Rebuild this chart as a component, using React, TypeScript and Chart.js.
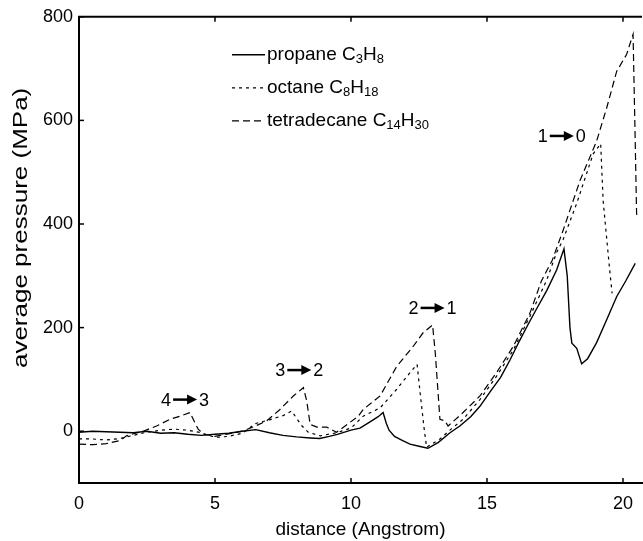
import React, { useEffect, useRef } from 'react';
import { Chart, registerables } from 'chart.js';

Chart.register(...registerables);

// ---- data (distance in Angstrom, pressure in MPa) ----
const propaneX = [0, 0.5, 1.0, 1.5, 2.0, 2.5, 3.0, 3.5, 4.0, 4.5, 5.0, 5.5, 6.0, 6.5, 7.0, 7.5, 8.0, 8.5, 8.85, 9.2, 9.5, 10.0, 10.33, 10.7, 11.0, 11.18, 11.3, 11.4, 11.6, 11.9, 12.17, 12.5, 12.83, 13.2, 13.64, 14.0, 14.4, 14.74, 15.1, 15.5, 15.85, 16.2, 16.5, 16.8, 17.2, 17.56, 17.83, 17.95, 18.05, 18.12, 18.3, 18.48, 18.7, 19.03, 19.4, 19.77, 20.1, 20.45];
const propaneY = [-2, 0, -1, -2, -3, 0, -4, -3, -6, -8, -6, -4, 0, 3, -3, -8, -11, -13, -14, -10, -6, 2, 6, 18, 28, 36, 15, 2, -10, -18, -25, -29, -33, -22, -3, 10, 28, 48, 75, 104, 138, 175, 205, 234, 272, 311, 352, 300, 200, 170, 160, 130, 140, 171, 215, 260, 290, 324];

const octaneX = [0, 0.5, 1.0, 1.5, 2.0, 2.4, 3.0, 3.5, 4.0, 4.5, 5.0, 5.5, 6.0, 6.5, 7.0, 7.5, 7.82, 8.0, 8.2, 8.43, 8.87, 9.47, 10.0, 10.45, 11.07, 11.68, 12.17, 12.43, 12.55, 12.7, 12.78, 13.27, 13.7, 14.12, 14.74, 15.35, 15.97, 16.58, 17.19, 17.56, 17.8, 18.3, 18.9, 19.18, 19.27, 19.5, 19.6];
const octaneY = [-15, -15, -17, -14, -8, -3, 2, 4, 2, -3, -12, -10, -4, 15, 22, 30, 39, 25, 10, -2, -9, -3, 6, 29, 45, 81, 113, 129, 70, 0, -31, -15, 5, 23, 61, 106, 157, 222, 291, 345, 370, 440, 535, 555, 445, 317, 266];

const tetradecaneX = [0, 0.5, 1.0, 1.5, 1.75, 2.0, 2.36, 2.85, 3.35, 3.71, 4.08, 4.2, 4.38, 4.6, 5.0, 5.5, 6.0, 6.4, 6.9, 7.39, 7.88, 8.25, 8.37, 8.5, 8.75, 9.1, 9.47, 9.96, 10.27, 10.45, 11.07, 11.68, 12.29, 12.65, 13.0, 13.1, 13.27, 13.45, 13.57, 14.12, 14.74, 15.35, 15.97, 16.58, 17.0, 17.4, 17.8, 18.42, 19.03, 19.4, 19.77, 20.13, 20.37, 20.44, 20.5, 20.55];
const tetradecaneY = [-25, -26, -24, -18, -9, -5, 0, 10, 23, 29, 36, 23, 4, -6, -10, -5, 0, 8, 20, 42, 68, 84, 59, 13, 8, 8, -2, 17, 29, 42, 68, 125, 164, 190, 205, 150, 23, 20, 10, 36, 68, 113, 164, 228, 290, 330, 388, 484, 560, 624, 695, 727, 766, 586, 420, 410];

const xTicks = [0, 5, 10, 15, 20];
const yTicks = [0, 200, 400, 600, 800];

const xTitle = 'distance (Angstrom)';
const yTitle = 'average pressure (MPa)';

const legendLabels = [
  [{ t: 'propane C' }, { t: '3', sub: true }, { t: 'H' }, { t: '8', sub: true }],
  [{ t: 'octane C' }, { t: '8', sub: true }, { t: 'H' }, { t: '18', sub: true }],
  [{ t: 'tetradecane C' }, { t: '14', sub: true }, { t: 'H' }, { t: '30', sub: true }],
];

const transitionFrom = ['4', '3', '2', '1'];
const transitionTo = ['3', '2', '1', '0'];
const transitionX = [3.9, 8.1, 13.0, 17.75];
const transitionY = [61, 118, 238, 570];

const FONT = '"Liberation Sans", Arial, Helvetica, sans-serif';

const toPoints = (xs: number[], ys: number[]) => xs.map((x, i) => ({ x, y: ys[i] }));

const framePlugin = {
  id: 'frame',
  afterDraw(chart: any) {
    const ctx = chart.ctx;
    const { left, right, top, bottom } = chart.chartArea;
    const xs = chart.scales.x;
    const ys = chart.scales.y;
    ctx.save();
    ctx.strokeStyle = '#000';
    ctx.lineWidth = 2;
    ctx.beginPath();
    ctx.moveTo(left - 1, top);
    ctx.lineTo(right, top);
    ctx.stroke();
    ctx.lineWidth = 1.5;
    xTicks.forEach((v) => {
      const px = xs.getPixelForValue(v);
      ctx.beginPath();
      ctx.moveTo(px, bottom);
      ctx.lineTo(px, bottom - 5);
      ctx.moveTo(px, top);
      ctx.lineTo(px, top + 5);
      ctx.stroke();
    });
    yTicks.forEach((v) => {
      const py = ys.getPixelForValue(v);
      ctx.beginPath();
      ctx.moveTo(left, py);
      ctx.lineTo(left + 5, py);
      ctx.stroke();
    });

    // y axis title (drawn here so its width can follow the reference)
    ctx.fillStyle = '#000';
    ctx.font = `20px ${FONT}`;
    ctx.textAlign = 'center';
    ctx.textBaseline = 'middle';
    ctx.translate(21, (top + bottom) / 2 - 22);
    ctx.rotate(-Math.PI / 2);
    ctx.scale(1.3, 1);
    ctx.fillText(yTitle, 0, 0);
    ctx.restore();
  },
};

const labelsPlugin = {
  id: 'labels',
  afterDatasetsDraw(chart: any) {
    const ctx = chart.ctx;
    const xs = chart.scales.x;
    const ys = chart.scales.y;
    const { left, top } = chart.chartArea;
    ctx.save();
    ctx.fillStyle = '#000';
    ctx.strokeStyle = '#000';
    ctx.textBaseline = 'middle';
    ctx.textAlign = 'left';

    // transition labels with arrows
    transitionFrom.forEach((from, i) => {
      const to = transitionTo[i];
      const cx = xs.getPixelForValue(transitionX[i]);
      const cy = ys.getPixelForValue(transitionY[i]);
      ctx.font = `18px ${FONT}`;
      const w1 = ctx.measureText(from).width;
      const w2 = ctx.measureText(to).width;
      const arrowLen = 24;
      const gap = 2;
      const total = w1 + gap + arrowLen + gap + w2;
      let x = cx - total / 2;
      ctx.fillText(from, x, cy + 1);
      x += w1 + gap;
      ctx.lineWidth = 2.5;
      ctx.beginPath();
      ctx.moveTo(x, cy);
      ctx.lineTo(x + arrowLen - 7, cy);
      ctx.stroke();
      ctx.beginPath();
      ctx.moveTo(x + arrowLen, cy);
      ctx.lineTo(x + arrowLen - 10, cy - 5);
      ctx.lineTo(x + arrowLen - 10, cy + 5);
      ctx.closePath();
      ctx.fill();
      x += arrowLen + gap;
      ctx.fillText(to, x, cy + 1);
    });

    // legend
    const lx0 = left + 153;
    const ly0 = top + 38;
    const rowH = 33;
    const sampleW = 33;
    chart.data.datasets.forEach((ds: any, i: number) => {
      const y = ly0 + i * rowH;
      ctx.lineWidth = ds.borderWidth;
      ctx.setLineDash(ds.borderDash || []);
      ctx.beginPath();
      ctx.moveTo(lx0, y);
      ctx.lineTo(lx0 + sampleW, y);
      ctx.stroke();
      ctx.setLineDash([]);
      let x = lx0 + sampleW + 2;
      legendLabels[i].forEach((p: any) => {
        if (p.sub) {
          ctx.font = `13px ${FONT}`;
          ctx.fillText(p.t, x, y + 5);
        } else {
          ctx.font = `19px ${FONT}`;
          ctx.fillText(p.t, x, y);
        }
        x += ctx.measureText(p.t).width;
      });
    });
    ctx.restore();
  },
};

export default function App() {
  const canvasRef = useRef<HTMLCanvasElement | null>(null);

  useEffect(() => {
    if (!canvasRef.current) return;
    const chart = new Chart(canvasRef.current, {
      type: 'line',
      data: {
        datasets: [
          {
            label: 'propane',
            data: toPoints(propaneX, propaneY),
            borderColor: '#000',
            borderWidth: 1.4,
            borderDash: [],
            pointRadius: 0,
            fill: false,
            tension: 0,
          },
          {
            label: 'octane',
            data: toPoints(octaneX, octaneY),
            borderColor: '#000',
            borderWidth: 1.2,
            borderDash: [3, 4],
            pointRadius: 0,
            fill: false,
            tension: 0,
          },
          {
            label: 'tetradecane',
            data: toPoints(tetradecaneX, tetradecaneY),
            borderColor: '#000',
            borderWidth: 1.2,
            borderDash: [7, 4],
            pointRadius: 0,
            fill: false,
            tension: 0,
          },
        ],
      },
      options: {
        responsive: false,
        animation: false,
        layout: { padding: { top: 15, right: 0, left: 0, bottom: 0 } },
        plugins: { legend: { display: false }, tooltip: { enabled: false } },
        scales: {
          x: {
            type: 'linear',
            min: 0,
            max: 20.7,
            grid: { display: false, drawTicks: false },
            border: { display: true, color: '#000', width: 2 },
            afterBuildTicks: (s: any) => {
              s.ticks = xTicks.map((v) => ({ value: v }));
            },
            afterFit: (s: any) => {
              s.height = 58;
            },
            ticks: {
              color: '#000',
              padding: 10,
              maxRotation: 0,
              font: { family: FONT, size: 18 },
            },
            title: {
              display: true,
              text: xTitle,
              color: '#000',
              font: { family: FONT, size: 19 },
              padding: { top: 2, bottom: 0 },
            },
          },
          y: {
            type: 'linear',
            min: -100,
            max: 800,
            grid: { display: false, drawTicks: false },
            border: { display: true, color: '#000', width: 2 },
            afterBuildTicks: (s: any) => {
              s.ticks = yTicks.map((v) => ({ value: v }));
            },
            afterFit: (s: any) => {
              s.width = 79;
            },
            ticks: {
              color: '#000',
              padding: 6,
              font: { family: FONT, size: 18 },
            },
            title: { display: false },
          },
        },
      },
      plugins: [framePlugin, labelsPlugin],
    } as any);
    return () => chart.destroy();
  }, []);

  return (
    <div style={{ position: 'fixed', left: 0, top: 0, width: 643, height: 541, background: '#fff' }}>
      <canvas ref={canvasRef} width={643} height={541} style={{ display: 'block', width: 643, height: 541 }} />
    </div>
  );
}
